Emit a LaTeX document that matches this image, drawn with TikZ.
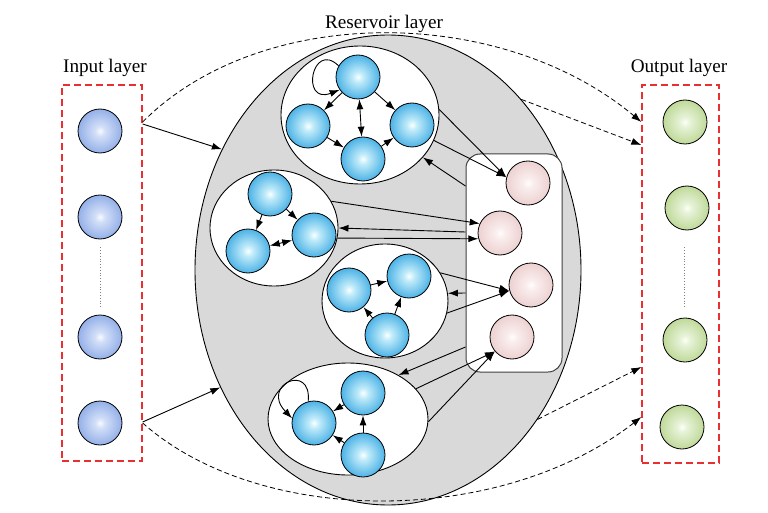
\documentclass[tikz,border=0pt]{standalone}
\usepackage{fontspec}
\setmainfont{Liberation Serif}
\usetikzlibrary{shapes.geometric,arrows.meta,calc}
\definecolor{resgray}{RGB}{217,217,217}
\definecolor{boxred}{RGB}{232,48,48}
\pgfdeclareradialshading{blueball}{\pgfpoint{0bp}{0bp}}{rgb(0bp)=(0.98,1,1); rgb(6bp)=(0.75,0.92,0.98); rgb(25bp)=(0.3,0.7,0.9); rgb(45bp)=(0.13,0.57,0.82); rgb(50bp)=(0.13,0.57,0.82)}
\pgfdeclareradialshading{inball}{\pgfpoint{0bp}{0bp}}{rgb(0bp)=(0.97,0.98,1); rgb(6bp)=(0.82,0.87,0.97); rgb(25bp)=(0.58,0.69,0.91); rgb(45bp)=(0.42,0.56,0.85); rgb(50bp)=(0.42,0.56,0.85)}
\pgfdeclareradialshading{greenball}{\pgfpoint{0bp}{0bp}}{rgb(0bp)=(0.99,1,0.97); rgb(6bp)=(0.9,0.95,0.84); rgb(25bp)=(0.75,0.85,0.6); rgb(45bp)=(0.58,0.73,0.38); rgb(50bp)=(0.58,0.73,0.38)}
\pgfdeclareradialshading{pinkball}{\pgfpoint{0bp}{0bp}}{rgb(0bp)=(1,0.99,0.99); rgb(6bp)=(0.98,0.93,0.93); rgb(25bp)=(0.93,0.82,0.82); rgb(45bp)=(0.85,0.66,0.66); rgb(50bp)=(0.85,0.66,0.66)}
\tikzset{
  arr/.style={-{Latex[length=10pt,width=7pt]}, line width=0.9pt},
  darr/.style={{Latex[length=10pt,width=7pt]}-{Latex[length=10pt,width=7pt]}, line width=0.9pt},
  dasharr/.style={-{Latex[length=10pt,width=7pt]}, line width=0.8pt, dash pattern=on 5pt off 3pt},
  ball/.style={circle, draw, line width=0.8pt, minimum size=44pt, inner sep=0pt, shade},
  bnode/.style={ball, shading=blueball},
  inode/.style={ball, shading=inball},
  gnode/.style={ball, shading=greenball},
  pnode/.style={ball, shading=pinkball},
  cluster/.style={ellipse, draw, fill=white, line width=0.9pt, inner sep=0pt},
  redbox/.style={rectangle, draw=boxred, line width=1.3pt, dash pattern=on 7pt off 4pt, inner sep=0pt},
  lbl/.style={font=\fontsize{19.2}{23}\selectfont, anchor=base, inner sep=0pt},
  dots/.style={gray, dotted, line width=0.8pt}
}
\begin{document}
\begin{tikzpicture}[x=1pt,y=-1pt]
\useasboundingbox (0,0) rectangle (768,513);
% labels
\node[lbl] (tin) at (105,73) {Input layer};
\node[lbl] (tres) at (384,29) {Reservoir layer};
\node[lbl] (tout) at (679,73) {Output layer};
% reservoir
\node[ellipse, draw, fill=resgray, line width=0.9pt, inner sep=0pt, minimum width=386pt, minimum height=470pt] (res) at (388,270) {};
% input / output boxes
\node[redbox, minimum width=80pt, minimum height=376pt] (inbox) at (102,273) {};
\node[redbox, minimum width=77pt, minimum height=378pt] (outbox) at (680.5,274) {};
\node[inode] (in1) at (100,131) {};
\node[inode] (in2) at (100,217) {};
\node[inode] (in3) at (100,337) {};
\node[inode] (in4) at (100,423) {};
\draw[dots] ([yshift=-8pt]in2.south) -- ([yshift=8pt]in3.north);
\node[gnode] (out1) at (685,122) {};
\node[gnode] (out2) at (687,208) {};
\node[gnode] (out3) at (685,340) {};
\node[gnode] (out4) at (682,427) {};
\draw[dots] ([xshift=-3pt,yshift=-17pt]out2.south) -- ([xshift=-1pt,yshift=11pt]out3.north);
% readout box
\node[rectangle, rounded corners=14pt, draw=black!75, fill=white, line width=1pt, minimum width=96pt, minimum height=218pt] (box) at (514,263) {};
\node[pnode] (p1) at (528,183) {};
\node[pnode] (p2) at (500,233) {};
\node[pnode] (p3) at (531,285) {};
\node[pnode] (p4) at (512,337) {};
% clusters
\node[cluster, minimum width=158pt, minimum height=138pt] (c1) at (360,115) {};
\node[bnode] (c1a) at (358,77) {};
\node[bnode] (c1b) at (308,126) {};
\node[bnode] (c1c) at (412,125) {};
\node[bnode] (c1d) at (363,159) {};
\draw[arr] (c1a) -- (c1b);
\draw[arr] (c1a) -- (c1c);
\draw[darr] (c1a) -- (c1d);
\draw[arr] (c1b) -- (c1d);
\draw[arr] (c1d) -- (c1c);
\draw[arr] (c1a.150) .. controls (312,40) and (300,105) .. (c1a.215);
\node[cluster, minimum width=128pt, minimum height=116pt] (c2) at (274,228) {};
\node[bnode] (c2a) at (270,194) {};
\node[bnode] (c2b) at (314,235) {};
\node[bnode] (c2c) at (248,251) {};
\draw[arr] (c2a) -- (c2c);
\draw[arr] (c2a) -- (c2b);
\draw[darr] (c2b) -- (c2c);
\node[cluster, minimum width=126pt, minimum height=114pt] (c3) at (385,301) {};
\node[bnode] (c3a) at (349,290) {};
\node[bnode] (c3b) at (409,276) {};
\node[bnode] (c3c) at (387,335) {};
\draw[arr] (c3a) -- (c3b);
\draw[arr] (c3c) -- (c3a);
\draw[arr] (c3c) -- (c3b);
\node[cluster, minimum width=160pt, minimum height=112pt] (c4) at (348,419) {};
\node[bnode] (c4a) at (363,393) {};
\node[bnode] (c4b) at (314,423) {};
\node[bnode] (c4c) at (363,455) {};
\draw[arr] (c4a) -- (c4b);
\draw[arr] (c4c) -- (c4b);
\draw[arr] (c4c) -- (c4a);
\draw[arr] (c4b.105) .. controls (312,362) and (260,385) .. (c4b.168);
% reservoir <-> readout
\draw[arr] (c1.4) -- (p1.165);
\draw[arr] (c1.-19) -- (p1.165);
\draw[arr] ([yshift=77pt]box.west) -- (c1.-34);
\draw[arr] (c2.25) -- (p2.155);
\draw[arr] ([yshift=31pt]box.west) -- (c2.0);
\draw[arr] (c2.-9) -- (p2.195);
\draw[arr] (c3.27) -- (p3.195);
\draw[arr] (c3.-11) -- (p3.195);
\draw[arr] ([yshift=-30pt]box.west) -- (c3.7);
\draw[arr] ([yshift=-84pt]box.west) -- (c4.41);
\draw[arr] (c4.24) -- (p4.220);
\draw[arr] (c4.-2) -- (p4.220);
% input -> reservoir
\draw[arr] ([yshift=149pt]inbox.east) -- (res.144.6);
\draw[arr] ([yshift=-149pt]inbox.east) -- (res.215.4);
% dashed to output
\draw[dasharr] ([yshift=151pt]inbox.east) .. controls (260,4) and (500,4) .. ([yshift=152pt]outbox.west);
\draw[dasharr] (res.52) -- ([yshift=129pt]outbox.west);
\draw[dasharr] ([yshift=-150pt]inbox.east) .. controls (260,527) and (500,527) .. ([yshift=-143pt]outbox.west);
\draw[dasharr] (res.-45) -- ([yshift=-93pt]outbox.west);
\end{tikzpicture}
\end{document}
